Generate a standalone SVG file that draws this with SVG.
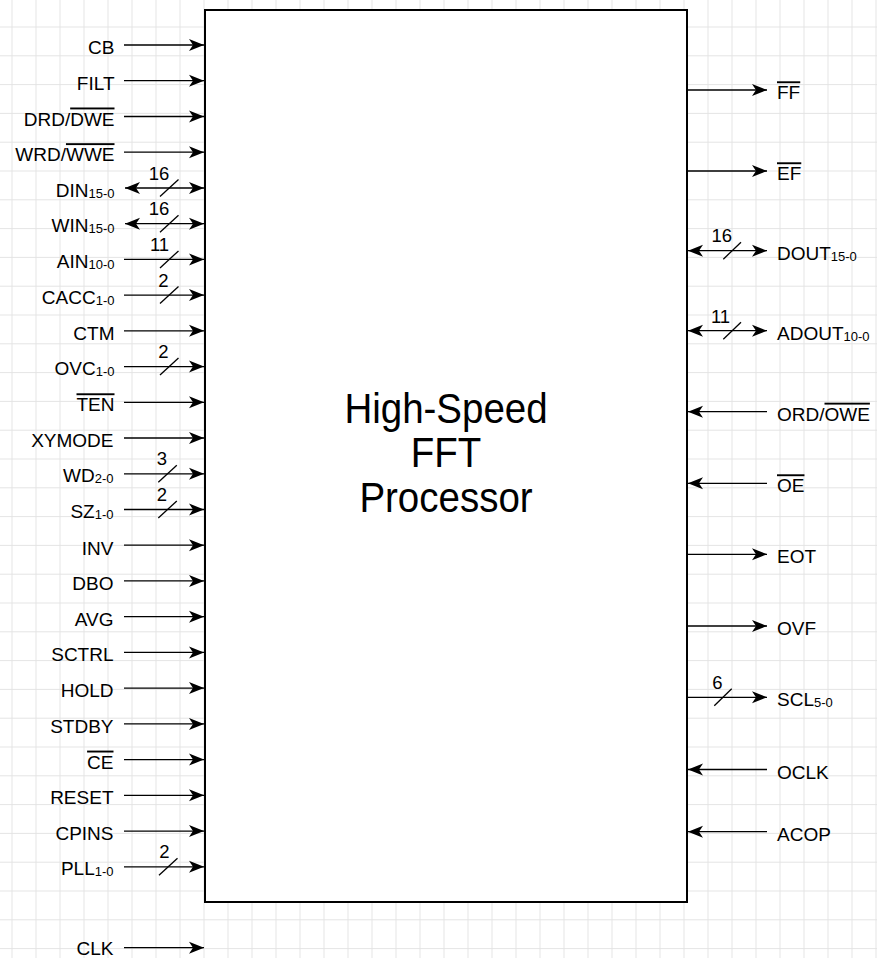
<svg xmlns="http://www.w3.org/2000/svg" width="877" height="958" viewBox="0 0 877 958">
<style>
.lbl{font-family:"Liberation Sans",Arial,Helvetica,sans-serif;font-size:19px;fill:#000}
.l{text-anchor:end}
.sub{font-size:13px}
.ov{text-decoration:overline}
.num{font-family:"Liberation Sans",Arial,Helvetica,sans-serif;font-size:18.5px;fill:#000;text-anchor:middle}
.title{font-family:"Liberation Sans",Arial,Helvetica,sans-serif;font-size:38.5px;fill:#000;text-anchor:middle}
.w{stroke:#000;stroke-width:1.3;fill:none}
.a{marker-end:url(#ah)}
.b{marker-start:url(#ah);marker-end:url(#ah)}
.sl{stroke:#000;stroke-width:1.3}
</style>
<defs>
<pattern id="grid" x="11.5" y="26.5" width="24" height="28.8" patternUnits="userSpaceOnUse">
<path d="M0.5,0V28.8M0,0.5H24" stroke="#e4e4e4" stroke-width="1" fill="none"/>
</pattern>
<marker id="ah" markerWidth="16" markerHeight="13" refX="15" refY="6.5" orient="auto-start-reverse" markerUnits="userSpaceOnUse" viewBox="0 0 16 13">
<path d="M0,0.5L15,6.5L0,12.5L4,6.5Z" fill="#000"/>
</marker>
</defs>
<rect width="877" height="958" fill="#fff"/>
<rect width="877" height="958" fill="url(#grid)"/>

<g id="fft">
<rect x="205" y="10" width="482" height="892" fill="#fff" stroke="#000" stroke-width="2"/>
<text class="title" transform="translate(446,423) scale(1,1.08)">High-Speed</text>
<text class="title" transform="translate(446,467) scale(1,1.08)">FFT</text>
<text class="title" transform="translate(446,511.5) scale(1,1.08)">Processor</text>
</g>

<g id="connectors">
<line class="w a" x1="124" y1="45" x2="204" y2="45"/>
<line class="w a" x1="124" y1="80.7" x2="204" y2="80.7"/>
<line class="w a" x1="124" y1="116.5" x2="204" y2="116.5"/>
<line class="w a" x1="124" y1="152.2" x2="204" y2="152.2"/>
<line class="w b" x1="125" y1="188" x2="204" y2="188"/>
<line class="w b" x1="125" y1="223.7" x2="204" y2="223.7"/>
<line class="w a" x1="124" y1="259.4" x2="204" y2="259.4"/>
<line class="w a" x1="124" y1="295.1" x2="204" y2="295.1"/>
<line class="w a" x1="124" y1="330.8" x2="204" y2="330.8"/>
<line class="w a" x1="124" y1="366.6" x2="204" y2="366.6"/>
<line class="w a" x1="124" y1="402.3" x2="204" y2="402.3"/>
<line class="w a" x1="124" y1="438" x2="204" y2="438"/>
<line class="w a" x1="124" y1="473.8" x2="204" y2="473.8"/>
<line class="w a" x1="124" y1="509.5" x2="204" y2="509.5"/>
<line class="w a" x1="124" y1="545.2" x2="204" y2="545.2"/>
<line class="w a" x1="124" y1="580.9" x2="204" y2="580.9"/>
<line class="w a" x1="124" y1="616.7" x2="204" y2="616.7"/>
<line class="w a" x1="124" y1="652.4" x2="204" y2="652.4"/>
<line class="w a" x1="124" y1="688.1" x2="204" y2="688.1"/>
<line class="w a" x1="124" y1="723.9" x2="204" y2="723.9"/>
<line class="w a" x1="124" y1="759.6" x2="204" y2="759.6"/>
<line class="w a" x1="124" y1="795.3" x2="204" y2="795.3"/>
<line class="w a" x1="124" y1="831.1" x2="204" y2="831.1"/>
<line class="w a" x1="124" y1="866.8" x2="204" y2="866.8"/>
<line class="w a" x1="124" y1="947.7" x2="204" y2="947.7"/>

<line class="w a" x1="687" y1="90" x2="767" y2="90"/>
<line class="w a" x1="687" y1="171" x2="767" y2="171"/>
<line class="w b" x1="688" y1="250.7" x2="767" y2="250.7"/>
<line class="w b" x1="688" y1="330.7" x2="767" y2="330.7"/>
<line class="w a" x1="767" y1="411.7" x2="688" y2="411.7"/>
<line class="w a" x1="767" y1="483.3" x2="688" y2="483.3"/>
<line class="w a" x1="687" y1="554.3" x2="767" y2="554.3"/>
<line class="w a" x1="687" y1="626" x2="767" y2="626"/>
<line class="w a" x1="687" y1="697.3" x2="767" y2="697.3"/>
<line class="w a" x1="767" y1="769.5" x2="688" y2="769.5"/>
<line class="w a" x1="767" y1="831.7" x2="688" y2="831.7"/>

<g id="bus-marks">
<line class="sl" x1="160" y1="196.5" x2="178.5" y2="179.5"/><text class="num" x="159" y="179.5">16</text>
<line class="sl" x1="160" y1="232.2" x2="178.5" y2="215.2"/><text class="num" x="159" y="215">16</text>
<line class="sl" x1="160" y1="267.9" x2="178.5" y2="250.9"/><text class="num" x="159.5" y="250.7">11</text>
<line class="sl" x1="160" y1="303.6" x2="178.5" y2="286.6"/><text class="num" x="163.3" y="287">2</text>
<line class="sl" x1="160" y1="375.1" x2="178.5" y2="358.1"/><text class="num" x="163.3" y="357.8">2</text>
<line class="sl" x1="158.3" y1="482.3" x2="176.8" y2="465.3"/><text class="num" x="162" y="465">3</text>
<line class="sl" x1="158.3" y1="518" x2="176.8" y2="501"/><text class="num" x="162" y="500.7">2</text>
<line class="sl" x1="159" y1="875.3" x2="177.5" y2="858.3"/><text class="num" x="164.3" y="857.5">2</text>
<line class="sl" x1="723.3" y1="259.2" x2="741" y2="242.2"/><text class="num" x="721.7" y="242.3">16</text>
<line class="sl" x1="723.3" y1="339.2" x2="741" y2="322.2"/><text class="num" x="720.5" y="322.5">11</text>
<line class="sl" x1="714.3" y1="705.8" x2="731.7" y2="688.8"/><text class="num" x="717.3" y="689">6</text>
</g>
</g>

<g id="pin-CB"><text class="lbl l" x="114.5" y="54">CB</text></g>
<g id="pin-FILT"><text class="lbl l" x="114.5" y="89.7">FILT</text></g>
<g id="pin-DRD"><text class="lbl l" x="114.5" y="125.5">DRD/<tspan class="ov">DWE</tspan></text></g>
<g id="pin-WRD"><text class="lbl l" x="114.5" y="161.2">WRD/<tspan class="ov">WWE</tspan></text></g>
<g id="pin-DIN"><text class="lbl l" x="114.5" y="196.5">DIN<tspan class="sub" dy="1">15-0</tspan></text></g>
<g id="pin-WIN"><text class="lbl l" x="114.5" y="232.2">WIN<tspan class="sub" dy="1">15-0</tspan></text></g>
<g id="pin-AIN"><text class="lbl l" x="114.5" y="268">AIN<tspan class="sub" dy="1">10-0</tspan></text></g>
<g id="pin-CACC"><text class="lbl l" x="114.5" y="303.7">CACC<tspan class="sub" dy="1">1-0</tspan></text></g>
<g id="pin-CTM"><text class="lbl l" x="114.5" y="339.8">CTM</text></g>
<g id="pin-OVC"><text class="lbl l" x="114.5" y="375.2">OVC<tspan class="sub" dy="1">1-0</tspan></text></g>
<g id="pin-TEN"><text class="lbl l" x="114.5" y="411.3"><tspan class="ov">TEN</tspan></text></g>
<g id="pin-XYMODE"><text class="lbl l" x="113.5" y="447">XYMODE</text></g>
<g id="pin-WD"><text class="lbl l" x="113.5" y="482.4">WD<tspan class="sub" dy="1">2-0</tspan></text></g>
<g id="pin-SZ"><text class="lbl l" x="113.5" y="518.1">SZ<tspan class="sub" dy="1">1-0</tspan></text></g>
<g id="pin-INV"><text class="lbl l" x="113.5" y="554.5">INV</text></g>
<g id="pin-DBO"><text class="lbl l" x="113.5" y="590">DBO</text></g>
<g id="pin-AVG"><text class="lbl l" x="113.5" y="625.7">AVG</text></g>
<g id="pin-SCTRL"><text class="lbl l" x="113.5" y="661.4">SCTRL</text></g>
<g id="pin-HOLD"><text class="lbl l" x="113.5" y="697.1">HOLD</text></g>
<g id="pin-STDBY"><text class="lbl l" x="113.5" y="732.9">STDBY</text></g>
<g id="pin-CE"><text class="lbl l" x="113.5" y="768.6"><tspan class="ov">CE</tspan></text></g>
<g id="pin-RESET"><text class="lbl l" x="113.5" y="804.3">RESET</text></g>
<g id="pin-CPINS"><text class="lbl l" x="113.5" y="840.1">CPINS</text></g>
<g id="pin-PLL"><text class="lbl l" x="113.5" y="875.4">PLL<tspan class="sub" dy="1">1-0</tspan></text></g>
<g id="pin-CLK"><text class="lbl l" x="113.5" y="954.5">CLK</text></g>

<g id="pin-FF"><text class="lbl" x="777" y="99.3"><tspan class="ov">FF</tspan></text></g>
<g id="pin-EF"><text class="lbl" x="777" y="180.3"><tspan class="ov">EF</tspan></text></g>
<g id="pin-DOUT"><text class="lbl" x="777" y="259.7">DOUT<tspan class="sub" dy="1">15-0</tspan></text></g>
<g id="pin-ADOUT"><text class="lbl" x="777" y="339.7">ADOUT<tspan class="sub" dy="1">10-0</tspan></text></g>
<g id="pin-ORD"><text class="lbl" x="777" y="420.7">ORD/<tspan class="ov">OWE</tspan></text></g>
<g id="pin-OE"><text class="lbl" x="777" y="492.3"><tspan class="ov">OE</tspan></text></g>
<g id="pin-EOT"><text class="lbl" x="777" y="563.3">EOT</text></g>
<g id="pin-OVF"><text class="lbl" x="777" y="635">OVF</text></g>
<g id="pin-SCL"><text class="lbl" x="777" y="706.3">SCL<tspan class="sub" dy="1">5-0</tspan></text></g>
<g id="pin-OCLK"><text class="lbl" x="777" y="778.5">OCLK</text></g>
<g id="pin-ACOP"><text class="lbl" x="777" y="840.7">ACOP</text></g>
</svg>
